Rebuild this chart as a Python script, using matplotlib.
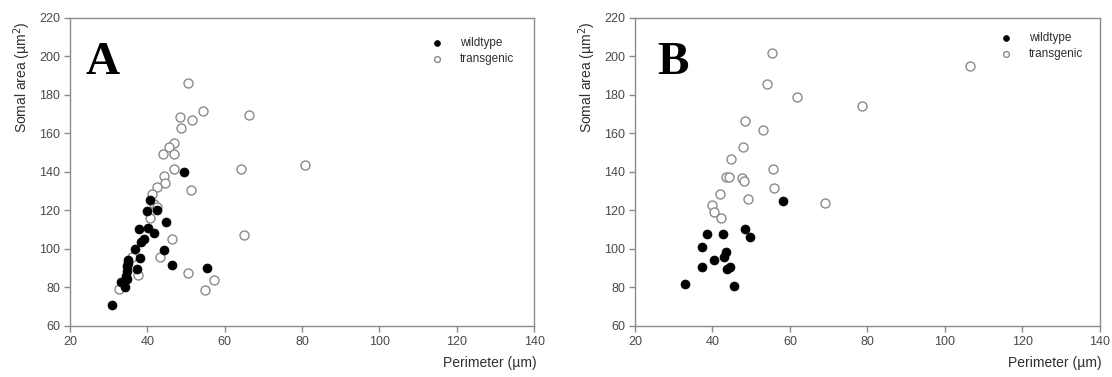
import matplotlib
matplotlib.use('Agg')
import matplotlib.pyplot as plt

# panel A
a_wt_x = [30.9, 33.3, 34.1, 34.4, 34.6, 34.7, 34.8, 34.9, 35.1, 37.2, 38.1, 36.9, 38.3,
          39.0, 37.9, 40.2, 41.8, 39.8, 40.6, 42.5, 44.7, 44.2, 46.4, 49.4, 55.4]
a_wt_y = [70.9, 83.0, 80.4, 86.0, 84.5, 88.5, 91.0, 92.8, 94.5, 89.4, 95.1, 99.8, 103.8,
          105.0, 110.4, 111.1, 108.5, 119.9, 125.5, 120.3, 114.2, 99.5, 91.5, 139.8, 90.3]
a_tg_x = [50.6, 54.5, 48.4, 51.5, 66.2, 48.8, 46.8, 45.5, 44.0, 47.0, 46.9, 64.2, 80.8,
          44.4, 44.6, 42.6, 41.3, 51.3, 41.8, 42.6, 40.6, 46.3, 65.0, 43.2, 36.0, 37.5,
          50.6, 57.2, 54.9, 32.7]
a_tg_y = [186.4, 171.7, 168.7, 167.0, 169.8, 162.7, 154.9, 152.8, 149.2, 149.4, 141.7, 141.6, 143.5,
          138.1, 134.5, 132.2, 128.4, 130.6, 123.4, 122.0, 115.9, 105.2, 107.3, 95.8, 96.0, 86.3,
          87.5, 84.1, 78.7, 79.2]

# panel B
b_wt_x = [33.0, 37.2, 37.2, 38.5, 40.4, 42.7, 42.9, 43.4, 43.7, 44.5, 45.5, 48.5, 49.8, 58.1]
b_wt_y = [82.0, 90.8, 101.2, 107.8, 94.5, 107.8, 95.7, 98.4, 89.8, 90.5, 81.0, 110.6, 106.4, 124.9]
b_tg_x = [55.4, 106.4, 54.0, 61.8, 78.7, 48.3, 53.1, 47.8, 44.8, 55.7, 43.5, 44.4, 47.7,
          48.2, 55.8, 42.0, 49.2, 69.0, 39.9, 40.4, 42.3]
b_tg_y = [201.6, 194.9, 185.7, 179.1, 174.3, 166.3, 161.8, 153.2, 146.6, 141.6, 137.4, 137.4, 136.7,
          135.5, 131.7, 128.7, 126.0, 124.1, 122.9, 119.2, 116.1]

panels = [('A', a_wt_x, a_wt_y, a_tg_x, a_tg_y),
          ('B', b_wt_x, b_wt_y, b_tg_x, b_tg_y)]

plt.rcParams['font.family'] = 'Liberation Sans'
fig = plt.figure(figsize=(11.12, 3.77), dpi=100)
rects = [[0.063, 0.1353, 0.4173, 0.817], [0.571, 0.1353, 0.418, 0.817]]
letter_x = [0.034, 0.049]
leg_anchor = [(0.779, 0.937), (0.786, 0.953)]

for i, (name, wx, wy, tx, ty) in enumerate(panels):
    ax = fig.add_axes(rects[i])
    ax.scatter(wx, wy, s=42, c='black', edgecolors='black', linewidths=0.5,
               label='wildtype', zorder=3)
    ax.scatter(tx, ty, s=42, facecolors='white', edgecolors='#8a8a8a', linewidths=1.0,
               label='transgenic', zorder=2)
    ax.set_xlim(20, 140)
    ax.set_ylim(60, 220)
    ax.set_xticks(range(20, 141, 20))
    ax.set_yticks(range(60, 221, 20))
    for sp in ax.spines.values():
        sp.set_color('#8c8c8c')
        sp.set_linewidth(1.0)
    ax.tick_params(direction='out', length=4, width=1, color='#8c8c8c',
                   labelsize=9, labelcolor='#4a4a4a', pad=3)
    ax.set_xlabel('Perimeter (µm)', fontsize=10, color='#303030')
    ax.xaxis.label.set_ha('right')
    ax.xaxis.label.set_va('center')
    ax.xaxis.set_label_coords(1.005, -0.12)
    ax.set_ylabel('Somal area (µm$^2$)', fontsize=10, color='#303030')
    ax.yaxis.label.set_ha('right')
    ax.yaxis.label.set_va('center')
    ax.yaxis.set_label_coords(-0.103, 0.99)
    ax.text(letter_x[i], 0.818, name, transform=ax.transAxes, fontsize=34,
            fontweight='bold', family='Liberation Serif', va='baseline', ha='left')
    ax.legend(loc='upper left', bbox_to_anchor=leg_anchor[i], frameon=False,
              fontsize=8.5, markerscale=0.65, handlelength=1.0, handletextpad=1.4,
              labelspacing=0.3, borderpad=0, borderaxespad=0, labelcolor='#303030')

fig.savefig('out.png', dpi=100)
